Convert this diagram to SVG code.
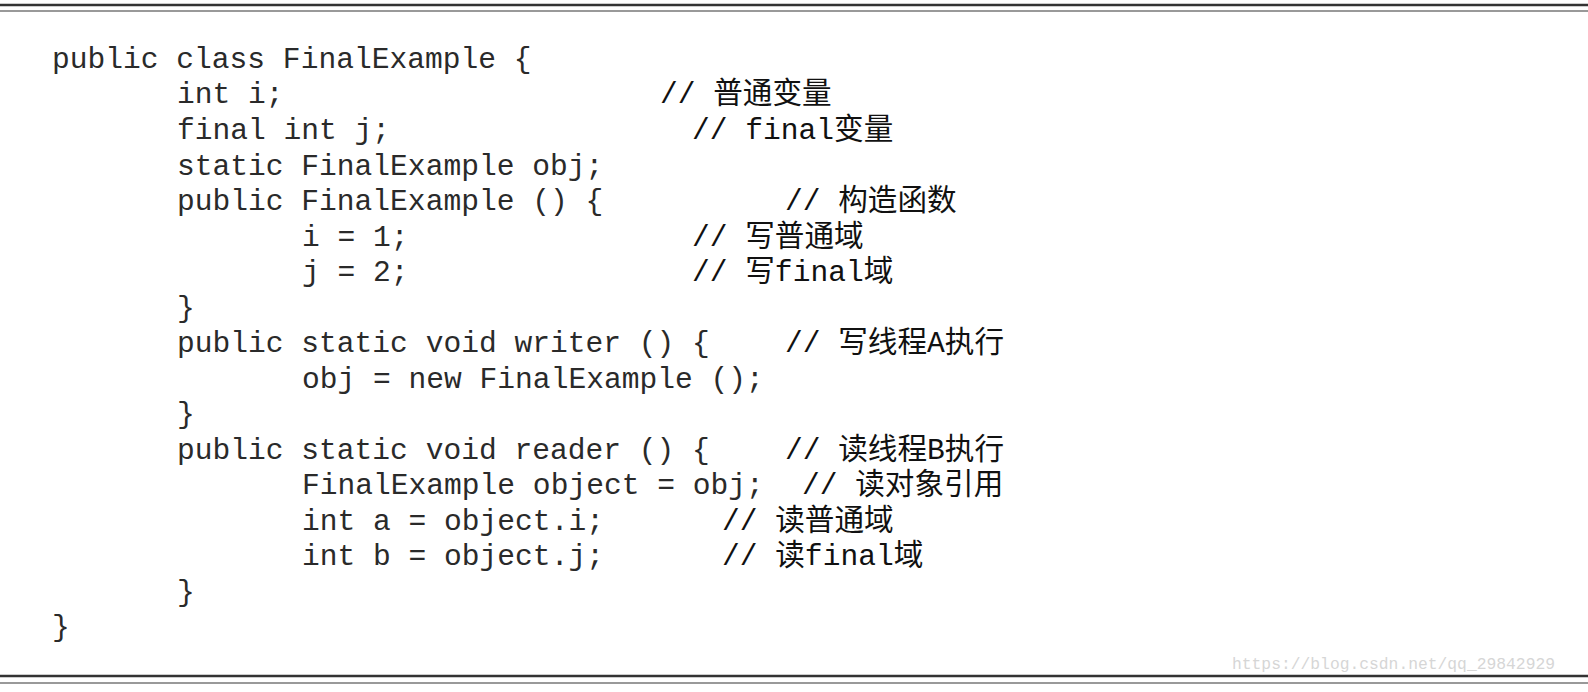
<svg xmlns="http://www.w3.org/2000/svg" width="1588" height="692" viewBox="0 0 1588 692">
<style>
.c{font-family:"Liberation Mono","Noto Sans CJK SC",monospace;font-size:29.6px;fill:#2a2a2a;white-space:pre}
.z{font-family:"Liberation Mono","Noto Sans CJK SC",monospace;font-size:29.6px;fill:#111;white-space:pre}
.w{font-family:"Liberation Mono",monospace;font-size:16.3px;fill:#d6d6d6}
</style>
<rect width="1588" height="692" fill="#fff"/>
<line x1="0" y1="5" x2="1588" y2="5" stroke="#333" stroke-width="2.5"/>
<line x1="0" y1="11" x2="1588" y2="11" stroke="#777" stroke-width="1.5"/>
<line x1="0" y1="676" x2="1588" y2="676" stroke="#333" stroke-width="2.5"/>
<line x1="0" y1="683" x2="1588" y2="683" stroke="#777" stroke-width="1.5"/>
<g class="c">
<text x="52" y="68">public class FinalExample {</text>
<text x="177" y="103">int i;</text>
<text x="177" y="139">final int j;</text>
<text x="177" y="175">static FinalExample obj;</text>
<text x="177" y="210">public FinalExample () {</text>
<text x="302" y="246">i = 1;</text>
<text x="302" y="281">j = 2;</text>
<text x="177" y="317">}</text>
<text x="177" y="352">public static void writer () {</text>
<text x="302" y="388">obj = new FinalExample ();</text>
<text x="177" y="423">}</text>
<text x="177" y="459">public static void reader () {</text>
<text x="302" y="494">FinalExample object = obj;</text>
<text x="302" y="530">int a = object.i;</text>
<text x="302" y="565">int b = object.j;</text>
<text x="177" y="601">}</text>
<text x="52" y="636">}</text>
</g>
<g class="z">
<text x="660" y="103">// 普通变量</text>
<text x="692" y="139">// final变量</text>
<text x="785" y="210">// 构造函数</text>
<text x="692" y="246">// 写普通域</text>
<text x="692" y="281">// 写final域</text>
<text x="785" y="352">// 写线程A执行</text>
<text x="785" y="459">// 读线程B执行</text>
<text x="802" y="494">// 读对象引用</text>
<text x="722" y="530">// 读普通域</text>
<text x="722" y="565">// 读final域</text>
</g>
<text class="w" x="1232" y="669" textLength="323" lengthAdjust="spacingAndGlyphs">https://blog.csdn.net/qq_29842929</text>
</svg>
